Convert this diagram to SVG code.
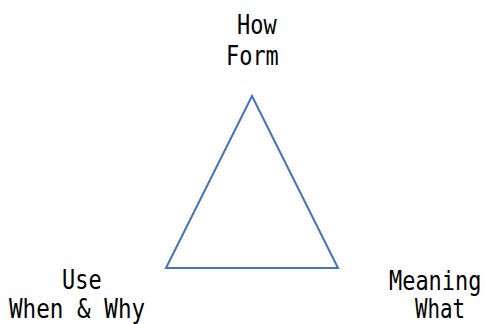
<svg xmlns="http://www.w3.org/2000/svg" width="485" height="324" viewBox="0 0 485 324">
  <style>
    .lbl { font-family: "DejaVu Sans Mono", "Liberation Mono", monospace; font-size: 26px; fill: #000; }
    .edge { fill: none; stroke: #4472C4; stroke-width: 2; stroke-linejoin: miter; }
  </style>
  <rect width="485" height="324" fill="#fff"/>
  <g id="connectors">
    <polygon class="edge" points="252,96 166,268 338,268"/>
  </g>
  <g id="node-form">
    <text class="lbl" transform="translate(237,34) scale(0.843,1)">How</text>
    <text class="lbl" transform="translate(226,65) scale(0.843,1)">Form</text>
  </g>
  <g id="node-use">
    <text class="lbl" transform="translate(62,289) scale(0.843,1)">Use</text>
    <text class="lbl" transform="translate(9,318) scale(0.87,1)">When &amp; Why</text>
  </g>
  <g id="node-meaning">
    <text class="lbl" transform="translate(389,290) scale(0.843,1)">Meaning</text>
    <text class="lbl" transform="translate(415,318) scale(0.80,1)">What</text>
  </g>
</svg>
